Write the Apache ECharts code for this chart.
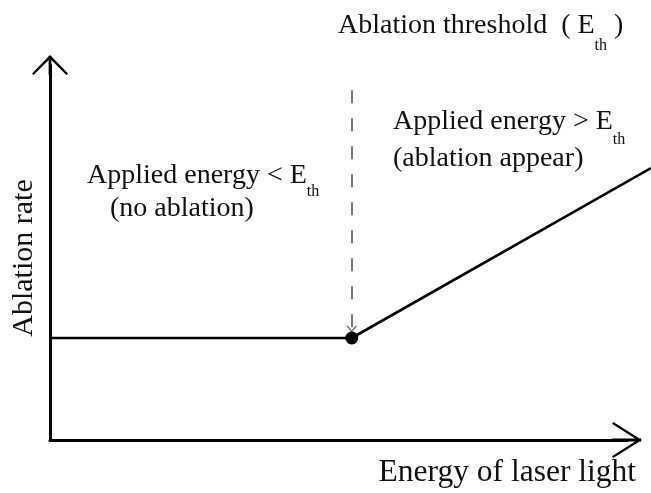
<!DOCTYPE html>
<html>
<head>
<meta charset="utf-8">
<script src="https://cdn.jsdelivr.net/npm/echarts@6/dist/echarts.min.js"></script>
<style>
html,body{margin:0;padding:0;background:#fff;}
#c{width:651px;height:493px;}
</style>
</head>
<body>
<div id="c"></div>
<script>
// ---- data (conceptual units: 0..100 on both axes) ----
var thresholdX = 52.3;           // ablation threshold energy E_th
var baseRate = 27.2;             // rate below threshold
var rateLine = [[0, 27.2], [52.3, 27.2], [104.2, 72.5]];   // ablation rate curve
var thresholdPoint = [[52.3, 27.2]];
var dashTop = 93.3, dashEnd = 29.6;
var xName = 'Energy of laser light';
var yName = 'Ablation rate';

var serif = "'Liberation Serif','Times New Roman',serif";
var ARROW_Y = 'path://M18,0 L36,18.6 L34.4,20 L18,3.7 L1.6,20 L0,18.6 Z M16.6,1 L19.4,1 L19.4,20 L16.6,20 Z';
var ARROW_X = 'path://M18,0 L36,28.8 L34.2,30 L18,4.5 L1.8,30 L0,28.8 Z M16.6,1 L19.4,1 L19.4,30 L16.6,30 Z';
var ARROW_S = 'path://M5,0 L10,6 L9,7 L5,2.2 L1,7 L0,6 Z';

function richText(x, y, parts, sub, align, size) {
  size = size || 28;
  var lh = size + 4;
  return {
    type: 'text', x: x, y: y, z: 10,
    style: {
      text: parts, fill: '#111', align: align || 'left', verticalAlign: 'top',
      rich: {
        m: {fontFamily: serif, fontSize: size, lineHeight: lh, verticalAlign: 'top', fill: '#111'},
        s: {fontFamily: serif, fontSize: 16, lineHeight: 16, verticalAlign: 'top', padding: [sub || 24, 0, 0, 0], fill: '#111'}
      }
    }
  };
}

var hiddenAxis = {show: false, axisLine: {show: false}, axisTick: {show: false}, axisLabel: {show: false}, splitLine: {show: false}};

var chart = echarts.init(document.getElementById('c'), null, {renderer: 'canvas'});
chart.setOption({
  backgroundColor: '#fff',
  animation: false,
  grid: [
    {left: 50, right: 24, top: 65, bottom: 53},
    {left: 50, right: 0, top: 65, bottom: 53}
  ],
  xAxis: [
    {
      gridIndex: 0, type: 'value', min: 0, max: 100,
      axisLine: {show: true, symbol: ['none', ARROW_X], symbolSize: [36, 30], lineStyle: {color: '#000', width: 3}},
      axisTick: {show: false}, axisLabel: {show: false}, splitLine: {show: false}
    },
    Object.assign({gridIndex: 1, type: 'value', min: 0, max: 104.2}, hiddenAxis)
  ],
  yAxis: [
    {
      gridIndex: 0, type: 'value', min: 0, max: 100,
      axisLine: {show: true, symbol: ['none', ARROW_Y], symbolSize: [36, 20], lineStyle: {color: '#000', width: 3}},
      axisTick: {show: false}, axisLabel: {show: false}, splitLine: {show: false}
    },
    Object.assign({gridIndex: 1, type: 'value', min: 0, max: 100}, hiddenAxis)
  ],
  series: [
    {
      type: 'line', xAxisIndex: 1, yAxisIndex: 1, data: rateLine, showSymbol: false, symbol: 'none', clip: false,
      lineStyle: {color: '#000', width: 2.6}, z: 3
    },
    {
      type: 'scatter', xAxisIndex: 0, yAxisIndex: 0, data: thresholdPoint, symbolSize: 13, clip: false,
      itemStyle: {color: '#000', opacity: 1}, z: 5,
      markLine: {
        silent: true, animation: false,
        symbol: ['none', ARROW_S], symbolSize: [10, 7],
        label: {show: false},
        lineStyle: {color: '#777', width: 2, type: [13, 15]},
        data: [[{coord: [thresholdX, dashTop]}, {coord: [thresholdX, dashEnd]}]]
      }
    }
  ],
  graphic: [
    richText(338, 12, '{m|Ablation threshold  ( E}{s|th}{m| )}', 26),
    richText(87, 162, '{m|Applied energy < E}{s|th}', 22),
    richText(110, 195, '{m|(no ablation)}'),
    richText(393, 108, '{m|Applied energy > E}{s|th}', 24),
    richText(393, 145, '{m|(ablation appear)}'),
    richText(636, 457, '{m|' + xName + '}', 24, 'right', 31.5),
    {
      type: 'text', x: 24, y: 258, rotation: Math.PI / 2, z: 10,
      style: {text: yName, fill: '#111', font: '30px ' + serif, align: 'center', verticalAlign: 'middle'}
    }
  ]
});
</script>
</body>
</html>
